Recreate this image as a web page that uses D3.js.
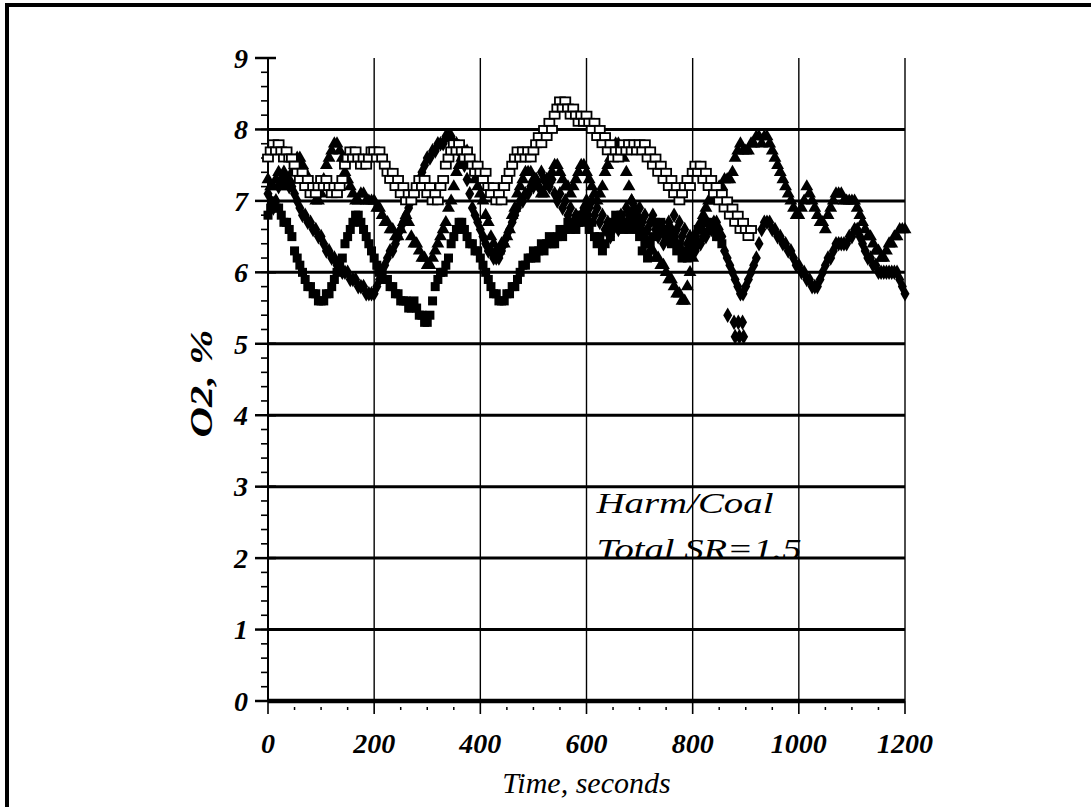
<!DOCTYPE html>
<html>
<head>
<meta charset="utf-8">
<script src="https://cdn.jsdelivr.net/npm/d3@7/dist/d3.min.js"></script>
<style>
  html, body { margin: 0; padding: 0; background: #fff; }
  svg { display: block; }
</style>
</head>
<body>
<svg id="chart" width="1091" height="807"></svg>
<script>
// O2 concentration (%) logged every 5 s over a 20-minute run, four probes.
const seconds = d3.range(0, 1201, 5);

// each row below covers 100 s (20 readings); null = probe not logging
const openSquares = [
  7.6, 7.7, 7.8, 7.7, 7.8, 7.7, 7.6, 7.7, 7.6, 7.6, 7.5, 7.4, 7.3, 7.4, 7.2, 7.3, 7.1, 7.2, 7.1, 7.2,
  7.3, 7.2, 7.3, 7.2, 7.1, 7.2, 7.1, 7.2, 7.3, 7.5, 7.6, 7.7, 7.6, 7.7, 7.6, 7.5, 7.6, 7.5, 7.6, 7.7,
  7.7, 7.6, 7.7, 7.6, 7.5, 7.4, 7.3, 7.4, 7.2, 7.3, 7.1, 7.2, 7.0, 7.1, 7.0, 7.1, 7.2, 7.3, 7.2, 7.3,
  7.1, 7.2, 7.0, 7.1, 7.0, 7.2, 7.3, 7.5, 7.6, 7.7, 7.8, 7.7, 7.8, 7.7, 7.6, 7.7, 7.6, 7.5, 7.4, 7.5,
  7.4, 7.3, 7.4, 7.2, 7.1, 7.2, 7.0, 7.1, 7.0, 7.2, 7.3, 7.4, 7.5, 7.6, 7.7, 7.6, 7.7, 7.6, 7.7, 7.6,
  7.7, 7.8, 7.9, 7.8, 8.0, 7.9, 8.1, 8.0, 8.2, 8.3, 8.4, 8.3, 8.4, 8.3, 8.2, 8.3, 8.2, 8.1, 8.2, 8.1,
  8.2, 8.1, 8.0, 8.1, 7.9, 8.0, 7.8, 7.9, 7.7, 7.8, 7.6, 7.7, 7.6, 7.7, 7.8, 7.7, 7.8, 7.7, 7.8, 7.7,
  7.8, 7.7, 7.8, 7.6, 7.7, 7.5, 7.6, 7.4, 7.5, 7.3, 7.4, 7.2, 7.3, 7.1, 7.2, 7.0, 7.1, 7.2, 7.3, 7.2,
  7.4, 7.5, 7.4, 7.5, 7.3, 7.4, 7.2, 7.3, 7.1, 7.2, 7.0, 7.1, 6.9, 7.0, 6.8, 6.9, 6.7, 6.8, 6.6, 6.7,
  6.6, 6.5, 6.6, null, null, null, null, null, null, null, null, null, null, null, null, null, null, null, null, null,
  null, null, null, null, null, null, null, null, null, null, null, null, null, null, null, null, null, null, null, null,
  null, null, null, null, null, null, null, null, null, null, null, null, null, null, null, null, null, null, null, null,
  null
];

const filledSquares = [
  6.8, 6.9, 7.0, 6.9, 6.9, 6.8, 6.7, 6.7, 6.6, 6.5, 6.3, 6.2, 6.1, 6.0, 5.9, 5.8, 5.8, 5.7, 5.7, 5.6,
  5.6, 5.6, 5.7, 5.7, 5.8, 5.9, 6.0, 6.1, 6.2, 6.4, 6.5, 6.6, 6.7, 6.8, 6.8, 6.7, 6.6, 6.5, 6.4, 6.3,
  6.2, 6.1, 6.0, 6.0, 5.9, 5.9, 5.8, 5.8, 5.7, 5.7, 5.6, 5.6, 5.6, 5.5, 5.5, 5.6, 5.5, 5.4, 5.4, 5.3,
  5.3, 5.4, 5.6, 5.8, 5.9, 6.0, 6.0, 6.1, 6.2, 6.4, 6.5, 6.6, 6.7, 6.7, 6.6, 6.5, 6.4, 6.4, 6.3, 6.3,
  6.2, 6.1, 6.0, 5.9, 5.8, 5.7, 5.7, 5.6, 5.6, 5.6, 5.7, 5.7, 5.8, 5.8, 5.9, 6.0, 6.1, 6.1, 6.2, 6.2,
  6.3, 6.2, 6.3, 6.4, 6.3, 6.4, 6.5, 6.4, 6.4, 6.5, 6.6, 6.5, 6.6, 6.7, 6.6, 6.7, 6.6, 6.7, 6.8, 6.7,
  6.8, 6.6, 6.7, 6.5, 6.4, 6.5, 6.3, 6.4, 6.6, 6.5, 6.7, 6.8, 6.7, 6.8, 6.6, 6.7, 6.6, 6.8, 6.7, 6.6,
  6.5, 6.3, 6.4, 6.2, 6.4, 6.5, 6.7, 6.6, 6.7, 6.6, 6.5, 6.6, 6.4, 6.5, 6.3, 6.4, 6.2, 6.3, 6.2, 6.3,
  6.4, 6.5, 6.6, 6.6, 6.7, 6.7, 6.7, 6.6, 6.6, 6.5, 6.5, 6.4, null, null, null, null, null, null, null, null,
  null, null, null, null, null, null, null, null, null, null, null, null, null, null, null, null, null, null, null, null,
  null, null, null, null, null, null, null, null, null, null, null, null, null, null, null, null, null, null, null, null,
  null, null, null, null, null, null, null, null, null, null, null, null, null, null, null, null, null, null, null, null,
  null
];

const diamonds = [
  7.1, 7.0, 6.9, 7.0, 7.2, 7.3, 7.4, 7.3, 7.2, 7.2, 7.1, 7.0, 6.9, 6.8, 6.8, 6.7, 6.7, 6.6, 6.6, 6.5,
  6.5, 6.4, 6.3, 6.3, 6.2, 6.2, 6.1, 6.1, 6.0, 6.0, 6.0, 5.9, 5.9, 5.9, 5.8, 5.8, 5.8, 5.7, 5.7, 5.7,
  5.7, 5.8, 5.9, 6.0, 6.1, 6.2, 6.3, 6.3, 6.4, 6.5, 6.6, 6.7, 6.8, 6.9, 7.0, 7.1, 7.2, 7.3, 7.4, 7.5,
  7.6, 7.6, 7.7, 7.7, 7.8, 7.8, 7.8, 7.9, 7.9, 7.9, 7.8, 7.8, 7.7, 7.6, 7.5, 7.3, 7.1, 6.9, 6.8, 6.7,
  6.6, 6.5, 6.4, 6.3, 6.3, 6.2, 6.2, 6.2, 6.3, 6.4, 6.5, 6.6, 6.7, 6.8, 6.9, 7.0, 7.0, 7.1, 7.1, 7.2,
  7.2, 7.3, 7.2, 7.4, 7.3, 7.3, 7.2, 7.3, 7.1, 7.0, 7.1, 6.9, 7.0, 6.8, 6.9, 6.7, 6.8, 6.7, 6.8, 6.9,
  7.0, 6.9, 7.0, 6.8, 6.9, 6.7, 6.8, 6.6, 6.7, 6.5, 6.6, 6.7, 6.6, 6.8, 6.7, 6.9, 6.8, 7.0, 6.9, 6.8,
  6.9, 6.7, 6.8, 6.6, 6.7, 6.8, 6.6, 6.5, 6.6, 6.4, 6.5, 6.7, 6.6, 6.8, 6.6, 6.7, 6.5, 6.6, 6.4, 6.5,
  6.3, 6.3, 6.4, 6.4, 6.5, 6.5, 6.6, 6.6, 6.7, 6.7, 6.6, 6.5, 6.3, 6.2, 6.1, 6.0, 5.9, 5.8, 5.7, 5.7,
  5.8, 5.9, 6.0, 6.1, 6.2, 6.4, 6.6, 6.7, 6.7, 6.7, 6.6, 6.6, 6.5, 6.5, 6.4, 6.4, 6.3, 6.3, 6.2, 6.1,
  6.1, 6.0, 6.0, 5.9, 5.9, 5.8, 5.8, 5.8, 5.9, 6.0, 6.1, 6.2, 6.2, 6.3, 6.4, 6.4, 6.4, 6.4, 6.4, 6.5,
  6.5, 6.6, 6.6, 6.5, 6.4, 6.3, 6.2, 6.2, 6.1, 6.1, 6.0, 6.0, 6.0, 6.0, 6.0, 6.0, 6.0, 6.0, 5.9, 5.8,
  5.7
];

const triangles = [
  7.3, 7.2, 7.2, 7.3, 7.4, 7.3, 7.2, 7.2, 7.3, 7.4, 7.5, 7.6, 7.6, 7.5, 7.4, 7.3, 7.2, 7.1, 7.0, 7.0,
  7.1, 7.3, 7.5, 7.6, 7.7, 7.8, 7.8, 7.7, 7.6, 7.4, 7.3, 7.2, 7.1, 7.0, 7.0, 7.1, 7.1, 7.0, 7.0, 7.0,
  7.0, 6.9, 6.9, 6.8, 6.7, 6.7, 6.6, 6.6, 6.5, 6.5, 6.6, 6.7, 6.8, 6.7, 6.5, 6.4, 6.4, 6.3, 6.2, 6.2,
  6.1, 6.1, 6.2, 6.3, 6.4, 6.5, 6.6, 6.7, 6.9, 7.0, 7.2, 7.4, 7.5, 7.6, 7.7, 7.7, 7.6, 7.5, 7.3, 7.2,
  7.1, 7.0, 6.8, 6.7, 6.5, 6.4, 6.3, 6.3, 6.4, 6.4, 6.5, 6.6, 6.8, 6.9, 7.1, 7.2, 7.3, 7.4, 7.4, 7.4,
  7.3, 7.3, 7.2, 7.1, 7.1, 7.2, 7.3, 7.4, 7.5, 7.5, 7.4, 7.3, 7.2, 7.2, 7.1, 7.2, 7.3, 7.4, 7.5, 7.5,
  7.4, 7.3, 7.2, 7.1, 7.0, 7.1, 7.2, 7.4, 7.5, 7.6, 7.7, 7.8, 7.8, 7.7, 7.6, 7.4, 7.2, 7.0, 6.9, 6.8,
  6.7, 6.6, 6.5, 6.4, 6.3, 6.3, 6.2, 6.2, 6.1, 6.1, 6.0, 5.9, 5.9, 5.8, 5.7, 5.7, 5.6, 5.6, 5.8, 6.0,
  6.2, 6.4, 6.6, 6.7, 6.8, 6.9, 7.0, 7.0, 7.1, 7.1, 7.2, 7.2, 7.3, 7.3, 7.3, 7.4, 7.6, 7.7, 7.8, 7.7,
  7.7, 7.7, 7.8, 7.8, 7.9, 7.9, 7.8, 7.9, 7.9, 7.8, 7.7, 7.6, 7.5, 7.4, 7.3, 7.2, 7.1, 7.0, 6.9, 6.8,
  6.8, 6.9, 7.0, 7.2, 7.1, 7.0, 6.9, 6.8, 6.7, 6.7, 6.6, 6.8, 6.9, 7.0, 7.1, 7.1, 7.1, 7.0, 7.0, 7.0,
  7.0, 7.0, 6.9, 6.8, 6.7, 6.6, 6.5, 6.5, 6.4, 6.3, 6.3, 6.2, 6.2, 6.3, 6.4, 6.4, 6.5, 6.5, 6.6, 6.6,
  6.6
];

// Short low excursions logged by the diamond probe around 880 s.
const dropoutTimes = [866, 878, 886, 894, 880, 888, 896];
const dropoutValues = [5.4, 5.3, 5.3, 5.3, 5.1, 5.1, 5.1];

const yTicks = [0, 1, 2, 3, 4, 5, 6, 7, 8, 9];
const xTicks = [0, 200, 400, 600, 800, 1000, 1200];
const noteLines = ["Harm/Coal", "Total SR=1.5"];

const svg = d3.select("#chart");
const x = d3.scaleLinear().domain([0, 1200]).range([268, 905]);
const y = d3.scaleLinear().domain([0, 9]).range([701, 58]);
const serif = "Liberation Serif";

// page frame
svg.append("path")
  .attr("d", "M7,807 L7,5 L1091,5")
  .attr("fill", "none").attr("stroke", "#000").attr("stroke-width", 4);

// vertical grid lines
svg.append("g").selectAll("line").data(xTicks.slice(1)).join("line")
  .attr("x1", d => x(d)).attr("x2", d => x(d))
  .attr("y1", y(9)).attr("y2", y(0))
  .attr("stroke", "#000").attr("stroke-width", 1.4);

// horizontal grid lines
svg.append("g").selectAll("line").data(yTicks.filter(d => d > 0 && d < 9)).join("line")
  .attr("x1", x(0)).attr("x2", x(1200))
  .attr("y1", d => y(d)).attr("y2", d => y(d))
  .attr("stroke", "#000").attr("stroke-width", 3);

// y axis with minor ticks every 0.2
const yAxis = svg.append("g").attr("transform", `translate(${x(0)},0)`);
yAxis.append("line").attr("y1", y(9)).attr("y2", y(0)).attr("stroke", "#000").attr("stroke-width", 2);
yAxis.selectAll(".minor").data(d3.range(0, 9.01, 0.2)).join("line").attr("class", "minor")
  .attr("x1", -7).attr("x2", 0)
  .attr("y1", d => y(d)).attr("y2", d => y(d))
  .attr("stroke", "#000").attr("stroke-width", 1.6);
yAxis.selectAll(".major").data(yTicks).join("line").attr("class", "major")
  .attr("x1", -13).attr("x2", 8)
  .attr("y1", d => y(d)).attr("y2", d => y(d))
  .attr("stroke", "#000").attr("stroke-width", 2.5);
yAxis.selectAll("text").data(yTicks).join("text")
  .attr("x", -20).attr("y", d => y(d)).attr("dy", "0.35em")
  .attr("text-anchor", "end")
  .attr("font-family", serif).attr("font-style", "italic").attr("font-weight", "bold")
  .attr("font-size", 28).text(d => d);

// x axis
const xAxis = svg.append("g").attr("transform", `translate(0,${y(0)})`);
xAxis.append("line").attr("x1", x(0)).attr("x2", x(1200)).attr("stroke", "#000").attr("stroke-width", 4.5);
xAxis.selectAll(".minor").data(d3.range(50, 1200, 50).filter(d => d % 200 !== 0)).join("line").attr("class", "minor")
  .attr("x1", d => x(d)).attr("x2", d => x(d)).attr("y1", 6).attr("y2", 9)
  .attr("stroke", "#000").attr("stroke-width", 1.5);
xAxis.selectAll(".major").data(xTicks).join("line").attr("class", "major")
  .attr("x1", d => x(d)).attr("x2", d => x(d)).attr("y1", 0).attr("y2", 13)
  .attr("stroke", "#000").attr("stroke-width", 1.6);
xAxis.selectAll("text").data(xTicks).join("text")
  .attr("x", d => x(d)).attr("y", 52)
  .attr("text-anchor", "middle")
  .attr("font-family", serif).attr("font-style", "italic").attr("font-weight", "bold")
  .attr("font-size", 28).text(d => d);

// axis titles
svg.append("text")
  .attr("transform", `translate(212,${(y(0) + y(9)) / 2 + 4}) rotate(-90)`)
  .attr("text-anchor", "middle")
  .attr("font-family", serif).attr("font-style", "italic").attr("font-weight", "bold")
  .attr("font-size", 32).attr("textLength", 108).attr("lengthAdjust", "spacingAndGlyphs")
  .text("O2, %");
svg.append("text")
  .attr("x", (x(0) + x(1200)) / 2).attr("y", 793)
  .attr("text-anchor", "middle")
  .attr("font-family", serif).attr("font-style", "italic")
  .attr("font-size", 30).text("Time, seconds");

// note inside the plot
const noteWidths = [177, 205];
svg.append("g").selectAll("text").data(noteLines).join("text")
  .attr("x", x(600) + 10).attr("y", (d, i) => y(2) - 45 + i * 46)
  .attr("font-family", serif).attr("font-style", "italic")
  .attr("font-size", 29)
  .attr("textLength", (d, i) => noteWidths[i]).attr("lengthAdjust", "spacingAndGlyphs")
  .text(d => d);

// markers
const pts = vals => seconds.map((t, i) => ({ t, v: vals[i] })).filter(d => d.v != null);
const marks = svg.append("g");

marks.append("g").selectAll("rect").data(pts(filledSquares)).join("rect")
  .attr("x", d => x(d.t) - 4.5).attr("y", d => y(d.v) - 4.5)
  .attr("width", 9).attr("height", 9).attr("fill", "#000");

const diamond = d3.symbol().type(d3.symbolDiamond).size(70);
marks.append("g").selectAll("path").data(pts(diamonds)
    .concat(dropoutTimes.map((t, i) => ({ t, v: dropoutValues[i] })))).join("path")
  .attr("transform", d => `translate(${x(d.t)},${y(d.v)})`)
  .attr("d", diamond).attr("fill", "#000");

const tri = d3.symbol().type(d3.symbolTriangle).size(72);
marks.append("g").selectAll("path").data(pts(triangles)).join("path")
  .attr("transform", d => `translate(${x(d.t)},${y(d.v)})`)
  .attr("d", tri).attr("fill", "#000");

marks.append("g").selectAll("rect").data(pts(openSquares)).join("rect")
  .attr("x", d => x(d.t) - 5).attr("y", d => y(d.v) - 3.5)
  .attr("width", 10).attr("height", 7)
  .attr("fill", "#fff").attr("stroke", "#000").attr("stroke-width", 1.8);
</script>
</body>
</html>
